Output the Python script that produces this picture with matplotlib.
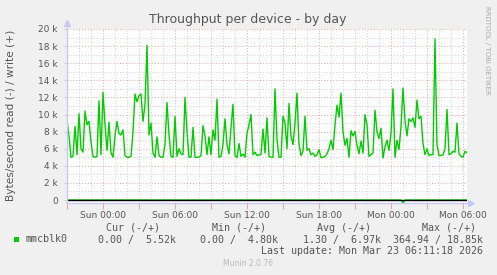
import matplotlib
matplotlib.use("Agg")
import matplotlib.pyplot as plt
import matplotlib.dates as mdates
from matplotlib.ticker import MultipleLocator, FuncFormatter
from datetime import datetime, timedelta
import numpy as np

# ---- data (kB/s, 10-minute samples starting Sat 21:00) ----
write_k = [
    9.3, 7.5, 5.0, 5.1, 8.6, 5.3, 10.1, 6.0, 5.6, 10.4,
    8.8, 9.2, 6.8, 5.1, 5.0, 5.1, 11.6, 5.3, 12.6, 8.8,
    5.8, 9.1, 5.5, 5.0, 7.5, 9.2, 7.8, 7.6, 8.2, 5.2,
    5.0, 5.0, 5.1, 8.0, 12.4, 11.5, 12.2, 12.4, 9.2, 11.2,
    18.1, 7.6, 9.0, 5.5, 5.0, 7.4, 5.2, 5.0, 5.0, 6.5,
    11.4,
    7.6, 5.1, 5.0, 9.8, 5.1, 6.0, 5.4, 5.3, 12.0, 8.0,
    5.0, 5.0, 8.5, 5.0, 5.0, 5.0, 5.2, 8.7, 7.5, 5.3,
    7.4, 5.3, 8.2, 7.0, 11.8, 5.0, 5.1, 6.5, 9.5, 6.5,
    5.4, 8.5, 11.2, 5.2, 4.95, 6.6, 5.1, 5.4, 5.0, 7.8,
    8.8, 10.0, 5.3, 5.6, 5.2, 5.3, 5.3, 8.3, 5.5, 9.6,
    5.1, 5.0, 5.0, 13.0, 7.0, 5.0, 5.0, 9.8, 9.0, 6.0,
    11.3, 7.5, 6.5, 9.0, 12.5, 6.5, 5.2, 5.7, 9.8, 5.8,
    6.0, 5.3, 5.5, 5.1, 5.3, 5.9, 4.95, 5.0, 5.1, 5.4,
    6.0, 7.0, 5.9, 8.8, 11.1, 9.7, 12.5, 8.0, 6.4, 7.2,
    5.0, 8.1, 7.5, 8.0, 6.4, 5.4, 6.9, 5.5, 10.0, 8.8,
    5.1, 5.3, 5.5, 10.5, 8.0, 7.2, 8.4, 4.9, 6.2, 7.0,
    5.8, 7.8, 13.0, 5.0, 7.0, 5.9, 8.6, 13.1, 9.3, 7.5,
    9.5, 9.2, 9.6, 8.5, 11.7, 9.5, 9.8, 6.6, 5.3, 6.0,
    5.2, 5.3, 5.3, 18.85, 6.5, 5.2, 5.2, 5.3, 6.0, 10.6,
    5.3, 5.4, 5.7, 5.6, 9.0, 5.4, 5.1, 5.0, 5.7, 5.52,
]
read_spike_index = [168]
read_spike_bytes = [364.94]

x_labels_fmt = "%a %H:%M"
y_tick_labels = ["0", "2 k", "4 k", "6 k", "8 k", "10 k", "12 k", "14 k", "16 k", "18 k", "20 k"]

legend_name = "mmcblk0"
legend_headers = ["Cur (-/+)", "Min (-/+)", "Avg (-/+)", "Max (-/+)"]
legend_values = ["0.00 /  5.52k", "0.00 /  4.80k", "1.30 /  6.97k", "364.94 / 18.85k"]
last_update = "Last update: Mon Mar 23 06:11:18 2026"

start = datetime(2026, 3, 21, 21, 0)
times = [start + timedelta(minutes=10 * i) for i in range(len(write_k))]
write = np.array(write_k) * 1000.0
read = np.zeros(len(write_k))
for i, v in zip(read_spike_index, read_spike_bytes):
    read[i] = v

# ---- figure ----
W, H = 497, 275
fig = plt.figure(figsize=(W / 100, H / 100), dpi=100, facecolor="#f0f0f0")
L, R, T, B = 67, 467, 29, 202.6
ax = fig.add_axes([L / W, 1 - B / H, (R - L) / W, (B - T) / H])
ax.set_facecolor("white")

green = "#00cc00"
ax.plot(times, write, color=green, lw=1.0, zorder=3)
ax.plot(times, -read, color=green, lw=1.0, zorder=3)
ax.axhline(0, color="black", lw=1.0, zorder=4)

ax.set_xlim(start, start + timedelta(minutes=10 * (len(write_k) - 1)))
ax.set_ylim(-300, 20000)

major_c = "#e8a8a8"
minor_c = "#cfcfcf"
ax.xaxis.set_major_locator(mdates.HourLocator(byhour=range(0, 24, 3)))
ax.xaxis.set_minor_locator(mdates.HourLocator())


def xfmt(x, pos):
    d = mdates.num2date(x)
    return d.strftime(x_labels_fmt) if d.hour % 6 == 0 else ""


ax.xaxis.set_major_formatter(FuncFormatter(xfmt))
ax.yaxis.set_major_locator(MultipleLocator(2000))
ax.yaxis.set_minor_locator(MultipleLocator(1000))


def yfmt(v, pos):
    idx = int(round(v / 2000))
    if 0 <= idx < len(y_tick_labels):
        return y_tick_labels[idx]
    return ""


ax.yaxis.set_major_formatter(FuncFormatter(yfmt))

ax.grid(which="minor", color=minor_c, linestyle=(0, (1, 2)), lw=0.7)
ax.grid(which="major", color=major_c, linestyle=(0, (1, 2)), lw=0.7)
ax.set_axisbelow(True)

ax.tick_params(axis="x", which="major", length=4, color=major_c, labelsize=6.5,
               labelcolor="#555555", pad=2.0)
ax.tick_params(axis="x", which="minor", length=0)
ax.tick_params(axis="y", which="major", length=2, color=minor_c, labelsize=6.5,
               labelcolor="#555555", pad=4.5)
ax.tick_params(axis="y", which="minor", length=0)

for s in ax.spines.values():
    s.set_visible(False)

axis_c = "#c8c8f4"
ax.plot([0, 0], [0, 1.03], transform=ax.transAxes, color=axis_c, lw=1, clip_on=False, zorder=5)
ax.plot([0], [1.035], transform=ax.transAxes, marker="^", ms=4, color=axis_c, clip_on=False, zorder=5)
ax.plot([0, 1.0075], [0, 0], transform=ax.transAxes, color=axis_c, lw=1, clip_on=False, zorder=5)
ax.plot([1.01], [0], transform=ax.transAxes, marker=">", ms=4, color=axis_c, clip_on=False, zorder=5)

# ---- texts ----
fig.text(248 / W, 1 - 19 / H, "Throughput per device - by day", ha="center", va="center",
         fontsize=9, color="#555555")
fig.text(11 / W, 1 - 115 / H, "Bytes/second read (-) / write (+)", rotation=90,
         ha="center", va="center", fontsize=7.6, color="#555555")
fig.text(487 / W, 1 - 6 / H, "RRDTOOL / TOBI OETIKER", rotation=270, ha="center", va="top",
         fontsize=5, color="#aaaaaa")

mono = "DejaVu Sans Mono"
fs = 7.2
tc = "#555555"
for xr, txt in zip([160, 266, 371, 476], legend_headers):
    fig.text(xr / W, 1 - 228 / H, txt, ha="right", va="center", fontsize=fs, family=mono, color=tc)
fig.patches.append(plt.Rectangle((14 / W, 1 - 242 / H), 5 / W, 5 / H, transform=fig.transFigure,
                                 facecolor=green, edgecolor="none"))
fig.text(26 / W, 1 - 239.5 / H, legend_name, ha="left", va="center", fontsize=fs, family=mono, color=tc)
for xr, txt in zip([176, 278, 381, 483], legend_values):
    fig.text(xr / W, 1 - 239.5 / H, txt, ha="right", va="center", fontsize=fs, family=mono, color=tc)
fig.text(483 / W, 1 - 251.5 / H, last_update, ha="right", va="center", fontsize=fs, family=mono, color=tc)
fig.text(248 / W, 1 - 264 / H, "Munin 2.0.76", ha="center", va="center", fontsize=5.5, color="#b8b8b8")

fig.savefig("out.png", dpi=100, facecolor=fig.get_facecolor())
